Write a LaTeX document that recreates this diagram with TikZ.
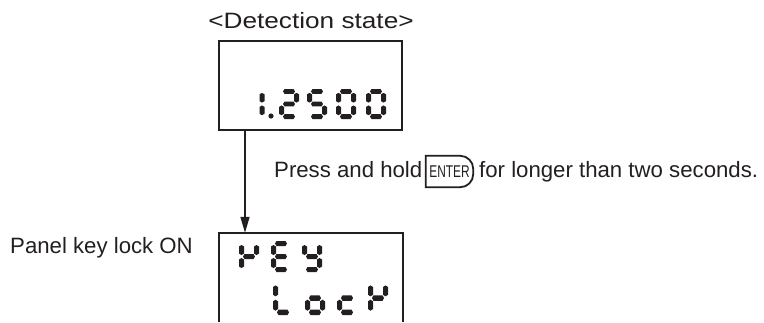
\documentclass[tikz,border=0pt]{standalone}
\usepackage{fontspec}
\setmainfont{Liberation Sans}
\usetikzlibrary{arrows.meta}
\definecolor{ink}{HTML}{231F20}
% seven-segment pieces, origin at top-left, y downward, cell 20 x 31
\newcommand\ssegA{\fill (4,2.5) -- (5.5,0) -- (14.5,0) -- (16,2.5) -- (14.5,5) -- (5.5,5) -- cycle;}
\newcommand\ssegG{\fill (4,15.5) -- (5.5,13) -- (14.5,13) -- (16,15.5) -- (14.5,18) -- (5.5,18) -- cycle;}
\newcommand\ssegD{\fill (4,28.5) -- (5.5,26) -- (14.5,26) -- (16,28.5) -- (14.5,31) -- (5.5,31) -- cycle;}
\newcommand\ssegF{\fill (2.5,4) -- (5,5.5) -- (5,12.5) -- (2.5,14) -- (0,12.5) -- (0,5.5) -- cycle;}
\newcommand\ssegB{\fill (17.5,4) -- (20,5.5) -- (20,12.5) -- (17.5,14) -- (15,12.5) -- (15,5.5) -- cycle;}
\newcommand\ssegE{\fill (2.5,17) -- (5,18.5) -- (5,25.5) -- (2.5,27) -- (0,25.5) -- (0,18.5) -- cycle;}
\newcommand\ssegC{\fill (17.5,17) -- (20,18.5) -- (20,25.5) -- (17.5,27) -- (15,25.5) -- (15,18.5) -- cycle;}
\newcommand\sdig[4]{\begin{scope}[shift={(#1,#2)},yscale=#3,fill=ink]\foreach \s in {#4}{\csname sseg\s\endcsname}\end{scope}}
\begin{document}
\begin{tikzpicture}[x=1pt,y=-1pt,
  lbl/.style={font=\fontsize{22.2}{26}\selectfont, text=ink, inner sep=0pt},
  panel/.style={inner sep=0pt},
  boxline/.style={draw=ink, line width=1.5pt},
  keyline/.style={draw=ink, line width=1.8pt},
  arr/.style={draw=ink, line width=1.5pt, -{Triangle[length=16pt,width=9pt]}}]
\useasboundingbox (0,0) rectangle (764,322);
% title
\node[lbl, anchor=base] (title) at (311,28) {\scalebox{1.18}[1]{<Detection state>}};
% upper display
\node[panel, boxline, minimum width=183pt, minimum height=89pt] (top) at (310.5,85.5) {};
\sdig{244.5}{89}{0.97}{B,C}
\fill[ink] (271,116) circle (2.6pt);
\sdig{279}{89}{0.97}{A,B,G,E,D}
\sdig{307}{89}{0.97}{A,F,G,C,D}
\sdig{336}{89}{0.97}{A,B,C,D,E,F}
\sdig{366}{89}{0.97}{A,B,C,D,E,F}
% lower display (open at the bottom)
\node[panel, minimum width=184pt, minimum height=89pt] (bot) at (311,277.5) {};
\draw[boxline] (bot.south west) -- (bot.north west) -- (bot.north east) -- (bot.south east);
\sdig{239}{241}{1}{B,E,F,G}
\sdig{271}{241}{1}{A,D,E,F,G}
\sdig{302}{241}{1}{B,C,D,F,G}
\sdig{273}{281}{1.1}{D,E,F}
\sdig{305}{281}{1.1}{C,D,E,G}
\sdig{337}{281}{1.1}{D,E,G}
\sdig{368}{281}{1.1}{B,E,F,G}
% connector
\coordinate (ax) at (245,0);
\draw[arr] (top.south -| ax) -- (bot.north -| ax);
% instruction
\node[lbl, anchor=base west] (press) at (274,177) {Press and hold};
\node[inner sep=0pt, minimum width=47pt, minimum height=31pt, text=ink] (key) at (449.5,171.5)
  {\fontsize{17}{17}\selectfont\scalebox{0.7}[1]{ENTER}};
\draw[keyline] (key.south west) -- (key.north west) -- ([xshift=-13pt]key.north east)
  arc[start angle=90, end angle=0, radius=13pt] -- ([yshift=13pt]key.south east)
  arc[start angle=0, end angle=-90, radius=13pt] -- cycle;
\node[lbl, anchor=base west] (rest) at (479,177) {for longer than two seconds.};
% side label
\node[lbl, anchor=base west] (lock) at (10,253) {Panel key lock ON};
\end{tikzpicture}
\end{document}
